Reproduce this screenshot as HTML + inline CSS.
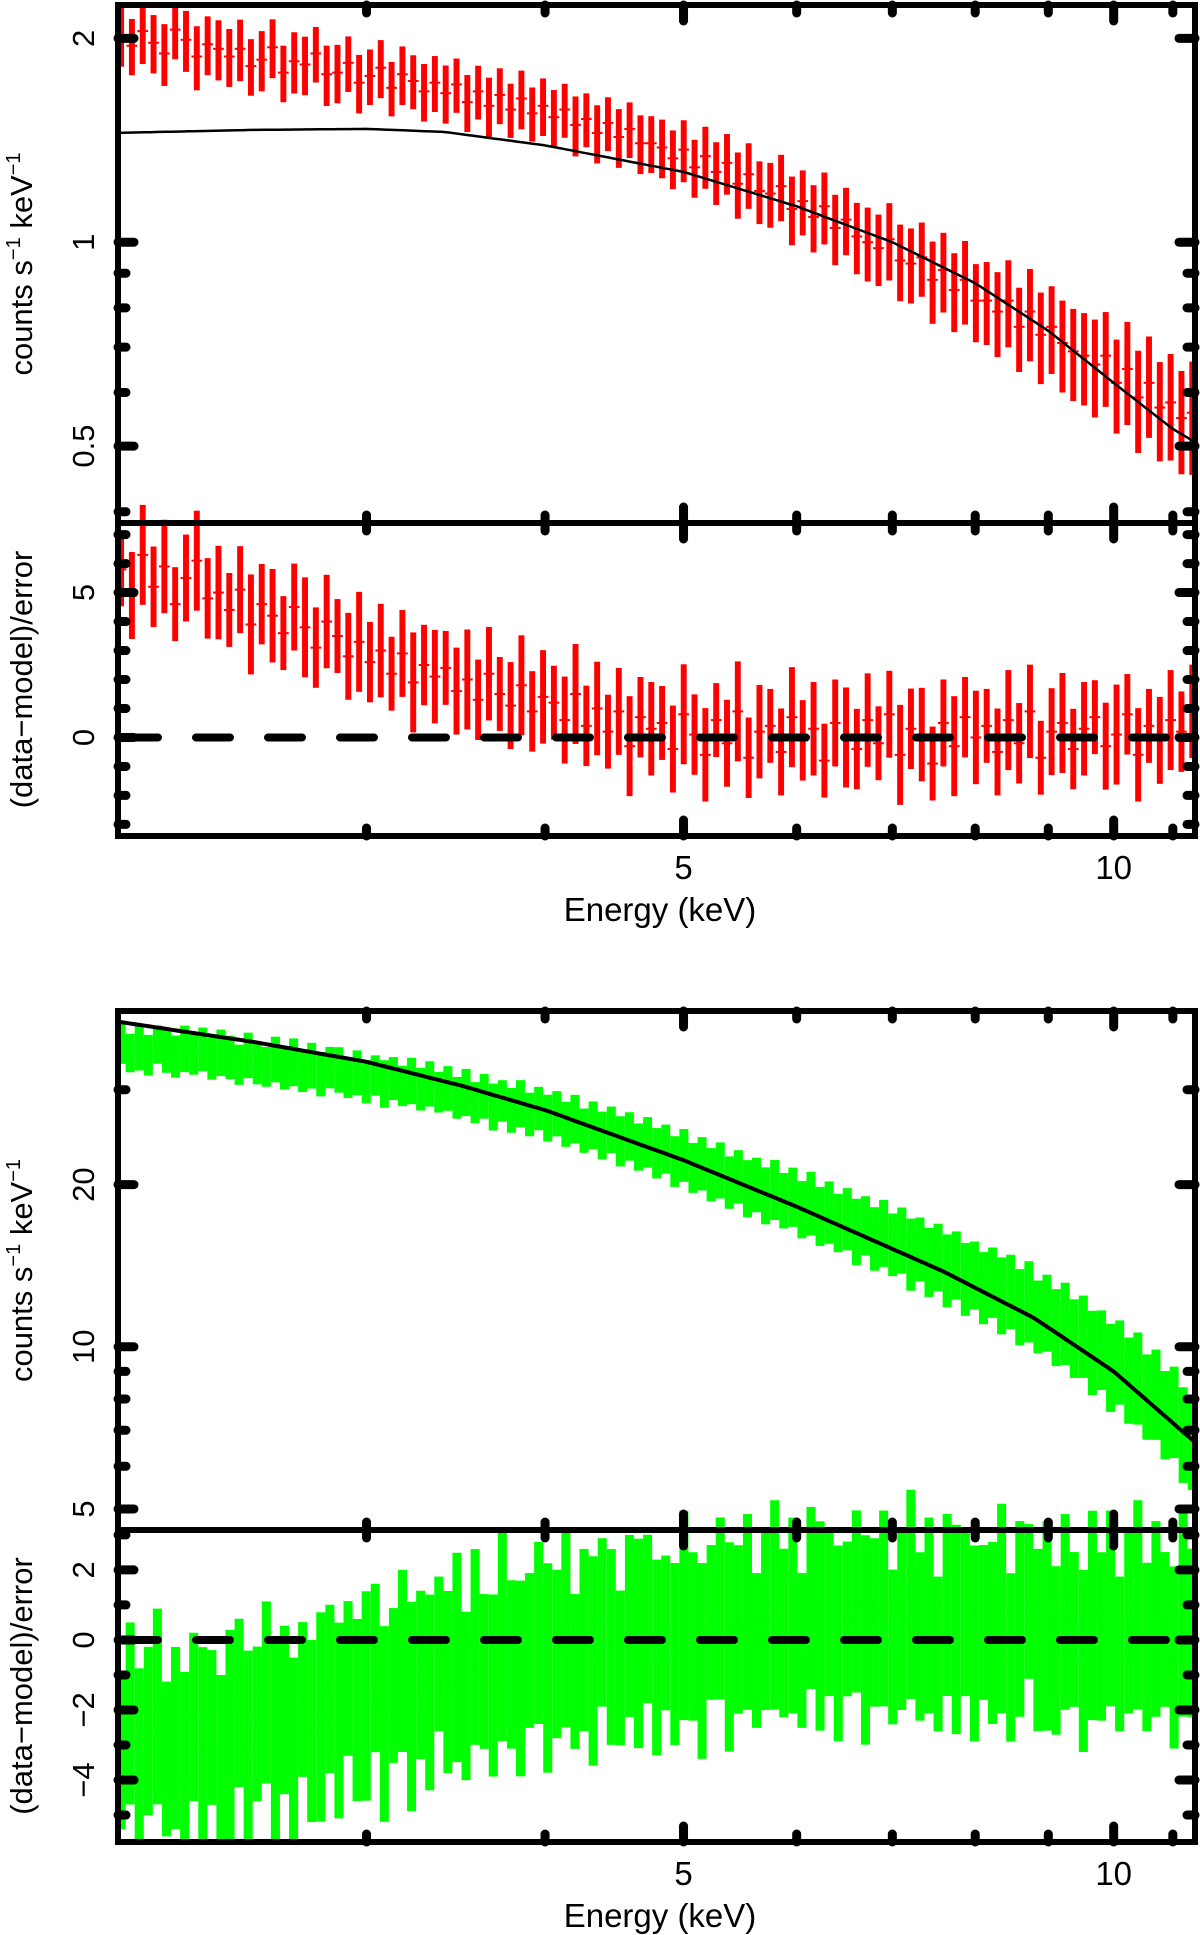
<!DOCTYPE html>
<html><head><meta charset="utf-8"><style>
html,body{margin:0;padding:0;background:#fff;}
svg{display:block;font-family:"Liberation Sans",sans-serif;}
</style></head><body>
<svg id="fig" width="1200" height="1935" viewBox="0 0 1200 1935" xmlns="http://www.w3.org/2000/svg"></svg>
<script>
// ---------- DATA ----------
const redCounts = [2.02,1.95,2.05,1.97,1.90,2.06,1.99,1.88,1.96,1.93,
1.88,1.93,1.82,1.86,1.94,1.78,1.85,1.83,1.90,1.77,
1.78,1.84,1.72,1.76,1.81,1.69,1.77,1.73,1.67,1.72,
1.66,1.71,1.61,1.67,1.59,1.65,1.57,1.63,1.55,1.59,
1.53,1.57,1.49,1.52,1.45,1.50,1.43,1.47,1.40,1.40,
1.38,1.33,1.37,1.29,1.34,1.27,1.31,1.22,1.26,1.19,
1.18,1.21,1.12,1.15,1.09,1.13,1.05,1.08,1.02,1.00,
0.98,1.01,0.94,0.93,0.95,0.88,0.91,0.85,0.88,0.82,
0.82,0.79,0.82,0.75,0.79,0.73,0.75,0.71,0.69,0.68,
0.66,0.68,0.62,0.65,0.59,0.62,0.57,0.58,0.55,0.56];
const redResid = [5.8,4.9,6.3,5.2,5.9,4.6,5.5,6.1,4.8,5.0,
4.4,5.1,3.9,4.6,4.2,3.6,4.5,3.8,3.1,4.0,
3.5,2.8,3.3,2.6,3.0,2.2,2.9,1.9,2.5,2.1,
2.4,1.6,2.0,1.3,2.2,1.5,1.1,1.8,0.9,1.4,
1.2,0.6,1.5,0.4,1.0,0.2,0.9,-0.3,0.7,0.3,
0.5,-0.4,0.8,0.1,-0.6,0.6,-0.2,0.9,-0.7,0.2,
0.4,-0.5,0.7,-0.1,0.3,-0.8,0.5,0.0,-0.4,0.6,
-0.2,0.8,-0.6,0.3,0.1,-0.9,0.5,-0.3,0.7,0.0,
0.4,-0.5,0.6,-0.2,0.9,-0.7,0.2,0.5,-0.4,0.3,
0.7,-0.3,0.1,0.8,-0.6,0.4,-0.1,0.6,0.2,0.9];
const redModelE = [2.0,2.5,3.0,3.4,4.0,5.0,6.0,7.0,8.0,9.0,10.0,11.0,11.4];
const redModelV = [1.45,1.465,1.47,1.455,1.39,1.27,1.13,1.0,0.87,0.74,0.62,0.53,0.507];

const greenCounts = [36.8,35.2,36.0,34.9,36.5,35.6,34.7,35.9,35.0,35.8,34.4,35.3,
34.6,33.5,34.9,33.8,33.2,34.3,33.0,33.9,32.6,33.4,32.2,33.1,
32.8,31.7,32.4,31.2,32.0,30.9,31.6,30.6,31.3,30.2,30.9,29.8,
30.3,29.1,29.8,28.5,29.3,28.0,28.7,27.6,28.4,27.1,27.8,26.7,
27.2,26.0,26.6,25.3,25.9,24.8,25.4,24.2,24.7,23.6,24.1,23.0,
23.4,22.2,22.8,21.6,22.0,21.0,21.4,20.3,20.8,19.8,20.1,19.2,
19.7,18.8,19.1,18.1,18.6,17.6,17.9,17.1,17.4,16.5,16.9,16.0,
16.4,15.6,15.9,15.0,15.3,14.5,14.8,14.0,14.3,13.5,13.7,13.0,
13.3,12.6,12.8,12.0,12.3,11.5,11.7,11.0,11.2,10.5,10.6,9.9,
10.0,9.3,9.5,8.8,8.9,8.2,8.3,7.6,7.7,7.0,6.7];
const greenResid = [-3.2,-2.1,-3.8,-2.6,-1.9,-3.4,-2.8,-3.9,-2.2,-3.0,-2.5,-3.6,
-2.7,-1.8,-3.1,-2.4,-1.5,-2.9,-2.0,-3.3,-1.7,-2.6,-2.2,-1.4,
-2.3,-1.1,-2.0,-1.6,-0.8,-2.4,-1.3,-0.6,-1.9,-1.0,-1.5,-0.4,
-1.2,-0.5,-1.6,-0.2,-0.9,-1.3,0.1,-0.7,-1.1,-0.3,0.2,-0.8,
-0.4,0.3,-0.9,0.0,-0.6,0.5,-0.2,-0.8,0.4,-0.1,0.6,-0.5,
0.2,-0.4,0.7,0.1,-0.6,0.5,0.9,-0.2,0.3,0.8,-0.3,0.6,
1.0,0.2,0.7,-0.3,1.2,0.4,0.8,-0.1,0.6,1.1,0.0,0.5,
0.9,-0.2,0.6,1.3,0.1,0.7,-0.4,1.0,0.3,0.8,-0.1,0.5,
0.2,0.9,-0.5,0.6,1.1,0.0,0.4,-0.3,0.8,0.3,-0.6,0.7,
0.1,0.9,-0.4,0.5,1.0,-0.2,0.6,0.3,-0.5,0.8,0.2];
const greenModelE = [2.0,2.5,3.0,3.5,4.0,5.0,6.0,7.6,8.8,10.0,11.4];
const greenModelV = [40.2,36.8,33.8,30.5,27.5,22.2,18.2,13.8,11.3,9.0,6.65];

const xTickMajor = [5,10];
const xTickMinor = [3,4,6,7,8,9,11];
const redSpecTicksMajor = [0.5,1,2];
const redSpecTicksMinor = [0.4,0.6,0.7,0.8,0.9];
const redResTicksMajor = [0,5];
const redResTicksMinor = [-3,-2,-1,1,2,3,4,6,7];
const greenSpecTicksMajor = [5,10,20];
const greenSpecTicksMinor = [6,7,8,9,30];
const greenResTicksMajor = [-4,-2,0,2];
const greenResTicksMinor = [-5,-3,-1,1,3];

// ---------- HELPERS ----------
const NS = "http://www.w3.org/2000/svg";
const svg = document.getElementById('fig');
function mk(tag, attrs, parent){
  const e = document.createElementNS(NS, tag);
  for (const k in attrs) e.setAttribute(k, attrs[k]);
  (parent||svg).appendChild(e);
  return e;
}
const X0 = 118, X1 = 1195, E0 = 2.01, E1 = 11.4;
function xScale(E){ return X0 + (Math.log10(E) - Math.log10(E0)) / (Math.log10(E1) - Math.log10(E0)) * (X1 - X0); }
function logY(v, vTop, vBot, yTop, yBot){ return yTop + (Math.log10(vTop) - Math.log10(v)) / (Math.log10(vTop) - Math.log10(vBot)) * (yBot - yTop); }
function linY(v, vTop, vBot, yTop, yBot){ return yTop + (vTop - v) / (vTop - vBot) * (yBot - yTop); }
function binE(i, n){ return 2.02 * Math.pow(11.35/2.02, i/(n-1)); }
function interpLog(Es, Vs, E){
  for (let k=0;k<Es.length-1;k++){
    if (E <= Es[k+1]){
      const t = (Math.log(E)-Math.log(Es[k]))/(Math.log(Es[k+1])-Math.log(Es[k]));
      return Math.exp(Math.log(Vs[k]) + t*(Math.log(Vs[k+1])-Math.log(Vs[k])));
    }
  }
  return Vs[Vs.length-1];
}

function drawPanel(cfg){
  const g = mk('g', {});
  
  
  const sy = v => logY(v, cfg.specTop, cfg.specBot, cfg.yTop, cfg.yMid);
  const ry = v => linY(v, cfg.resTop, cfg.resBot, cfg.yMid, cfg.yBot);
  const n = cfg.counts.length;
  const cid = cfg.name + '-clip';
  const defs = mk('defs', {}, g);
  const cp = mk('clipPath', {id: cid}, defs);
  mk('rect', {x: X0, y: cfg.yTop, width: X1-X0, height: cfg.yBot-cfg.yTop}, cp);
  const dataG = mk('g', {'clip-path': 'url(#'+cid+')'}, g);
  
  
  const binW = (X1-X0)/n;
  const w = binW*cfg.fill;
  for (let i=0;i<n;i++){
    const E = binE(i, n);
    const x = xScale(E);
    const v = cfg.counts[i];
    const err = v * cfg.errFrac(E) * (1 + 0.35*Math.abs(cfg.resid[i])/3);
    const yA = sy(v+err), yB = sy(Math.max(v-err,0.01));
    const bar = mk('rect', {x:x-w/2, y:yA, width:w, height:yB-yA, fill:cfg.color}, dataG);
    
    
    const hb = mk('line', {x1:x-binW/2, x2:x+binW/2, y1:sy(v), y2:sy(v), stroke:cfg.color, 'stroke-width':2}, dataG);
    
    
    const r = cfg.resid[i];
    const e2 = cfg.resErr * (1 + 0.15*((i*7)%5-2)/2);
    const rA = ry(r+e2), rB = ry(r-e2);
    const rb = mk('rect', {x:x-w/2, y:rA, width:w, height:rB-rA, fill:cfg.color}, dataG);
    
    
    const rh = mk('line', {x1:x-binW/2, x2:x+binW/2, y1:ry(r), y2:ry(r), stroke:cfg.color, 'stroke-width':2}, dataG);
    
    
  }
  let d = '';
  for (let k=0;k<=200;k++){
    const E = E0*Math.pow(E1/E0, k/200);
    d += (k?'L':'M') + xScale(E).toFixed(1) + ',' + sy(interpLog(cfg.modelE, cfg.modelV, E)).toFixed(1);
  }
  const ml = mk('path', {d:d, fill:'none', stroke:'#000', 'stroke-width':cfg.modelW}, dataG);
  
  
  const zl = mk('line', {x1:X0+6, x2:X1, y1:ry(0), y2:ry(0), stroke:'#000', 'stroke-width':8, 'stroke-dasharray':'34,38', 'stroke-linecap':'round'}, dataG);
  
  

  const fr = mk('rect', {x:X0, y:cfg.yTop, width:X1-X0, height:cfg.yBot-cfg.yTop, fill:'none', stroke:'#000', 'stroke-width':6}, g);
  
  
  const dv = mk('line', {x1:X0, x2:X1, y1:cfg.yMid, y2:cfg.yMid, stroke:'#000', 'stroke-width':6}, g);
  
  

  const tk = (x1,y1,x2,y2,w) => mk('line', {x1,y1,x2,y2,stroke:'#000','stroke-width':w,'stroke-linecap':'round'}, g);
  [[cfg.yTop,1],[cfg.yMid,-1],[cfg.yMid,1],[cfg.yBot,-1]].forEach(([y,dir])=>{
    xTickMajor.forEach(E=>{ const t=tk(xScale(E),y,xScale(E),y+dir*16,9);   });
    xTickMinor.forEach(E=>{ const t=tk(xScale(E),y,xScale(E),y+dir*8,9);   });
  });
  [[X0,1],[X1,-1]].forEach(([x,dir])=>{
    cfg.specMajor.forEach(v=>{ const t=tk(x,sy(v),x+dir*16,sy(v),9);   });
    cfg.specMinor.forEach(v=>{ const y=sy(v); if(y>cfg.yTop+3&&y<cfg.yMid-3){ const t=tk(x,y,x+dir*8,y,9);   }});
    cfg.resMajor.forEach(v=>{ const t=tk(x,ry(v),x+dir*16,ry(v),9);   });
    cfg.resMinor.forEach(v=>{ const y=ry(v); if(y>cfg.yMid+3&&y<cfg.yBot-3){ const t=tk(x,y,x+dir*8,y,9);   }});
  });
  const txt = (s, x, y, rot, size, name) => {
    const t = mk('text', {x:0, y:0, 'font-size':size, 'text-anchor':'middle', fill:'#000',
      transform:'translate('+x+','+y+')'+(rot?' rotate(-90)':'')}, g);
    t.textContent = s;
    
    
    return t;
  };
  cfg.specMajor.forEach(v=>{ const y=sy(v); if(y>cfg.yTop&&y<cfg.yMid) txt(String(v), 94, y, true, 31, 'y-tick-label'); });
  cfg.resMajor.forEach(v=>{ txt(String(v).replace('-','\u2212'), 94, ry(v), true, 31, 'residual-tick-label'); });
  xTickMajor.forEach(E=>txt(String(E), xScale(E), cfg.yBot+43, false, 33, 'x-tick-label'));
  txt('Energy (keV)', 660, cfg.yBot+85, false, 33, 'x-axis-title');
  const yl = mk('text', {x:0,y:0,'font-size':31,'text-anchor':'middle',fill:'#000',transform:'translate(32,'+((cfg.yTop+cfg.yMid)/2)+') rotate(-90)'}, g);
  
  
  yl.innerHTML = 'counts s<tspan dy="-12" font-size="20">\u22121</tspan><tspan dy="12"> keV</tspan><tspan dy="-12" font-size="20">\u22121</tspan>';
  txt('(data\u2212model)/error', 32, (cfg.yMid+cfg.yBot)/2, true, 31, 'residual-axis-title');
}

drawPanel({name:'top-panel', color:'#ff0000', fill:0.55, modelW:2.5,
  yTop:5, yMid:523, yBot:836, specTop:2.24, specBot:0.385, resTop:7.4, resBot:-3.4,
  counts:redCounts, resid:redResid, resErr:1.5, errFrac:E=>0.06+0.012*(E-2),
  modelE:redModelE, modelV:redModelV,
  specMajor:redSpecTicksMajor, specMinor:redSpecTicksMinor, resMajor:redResTicksMajor, resMinor:redResTicksMinor});
drawPanel({name:'bottom-panel', color:'#00ff00', fill:1.0, modelW:4,
  yTop:1011, yMid:1530, yBot:1842, specTop:42, specBot:4.57, resTop:3.14, resBot:-5.77,
  counts:greenCounts, resid:greenResid, resErr:2.6, errFrac:E=>0.065+0.013*(E-2),
  modelE:greenModelE, modelV:greenModelV,
  specMajor:greenSpecTicksMajor, specMinor:greenSpecTicksMinor, resMajor:greenResTicksMajor, resMinor:greenResTicksMinor});
</script>
</body></html>
